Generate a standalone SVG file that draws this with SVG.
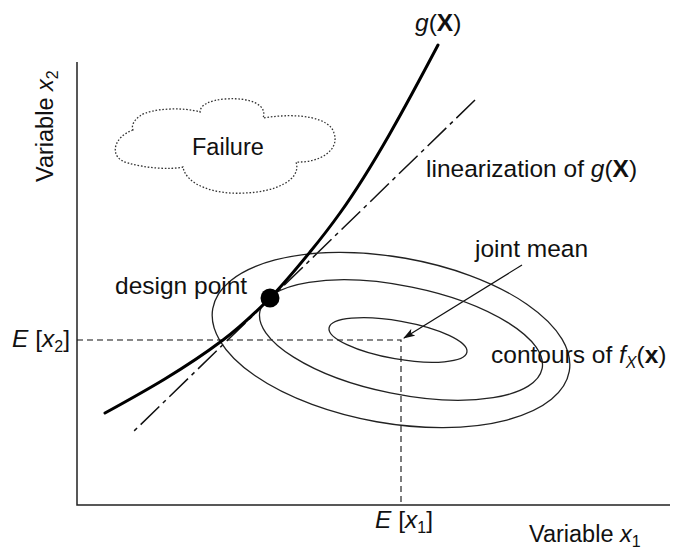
<svg xmlns="http://www.w3.org/2000/svg" width="675" height="550" viewBox="0 0 675 550">
<style>
text{font-family:"Liberation Sans",Arial,sans-serif;font-size:24.5px;fill:#111}
.ax{font-size:23.5px}
.it{font-style:italic}
.bd{font-weight:bold}
.sub{font-size:16px}
.axis{fill:none;stroke:#222;stroke-width:1.5}
.dash{fill:none;stroke:#111;stroke-width:1.1;stroke-dasharray:6 4}
.ell{fill:none;stroke:#222;stroke-width:1.3}
.g{fill:none;stroke:#000;stroke-width:3;stroke-linecap:round}
.lin{fill:none;stroke:#111;stroke-width:1.5;stroke-dasharray:26 5 4 5}
.cloud{fill:none;stroke:#333;stroke-width:1.3;stroke-dasharray:1.6 1.8}
</style>
<defs>
<marker id="ah" viewBox="0 0 12 8" refX="11" refY="4" markerWidth="12" markerHeight="8" markerUnits="userSpaceOnUse" orient="auto">
<path d="M0,0 L12,4 L0,8 L3,4 Z" fill="#111"/>
</marker>
</defs>
<g id="axes">
<path class="axis" d="M77,62 L77,505 L670,505"/>
</g>
<g id="connectors">
<path class="dash" d="M77,340 L401,340 L401,505"/>
<path class="lin" d="M475,100 L133,432"/>
<path fill="none" stroke="#111" stroke-width="1.2" d="M522,265 L404,338" marker-end="url(#ah)"/>
</g>
<g id="contours">
<ellipse class="ell" cx="398" cy="340" rx="70" ry="19" transform="rotate(10 398 340)"/>
<ellipse class="ell" cx="401" cy="340" rx="144" ry="54" transform="rotate(11.5 401 340)"/>
<ellipse class="ell" cx="391" cy="340" rx="181" ry="83" transform="rotate(10 391 340)"/>
</g>
<g id="limit-state">
<path class="g" d="M105,413 C144.3,391.4 183.7,369.5 223,340 C238.7,328.25 254.3,313.67 270,298 C283.3,284.67 296.7,268.27 310,252 C320,239.8 330,227 340,213 C372.67,167.3 405.3,107.1 438,45"/>
</g>
<g id="design-point">
<circle cx="270" cy="298" r="9.5" fill="#000"/>
</g>
<g id="failure">
<path class="cloud" d="M133,130 C113,137 108,158 128,163 C145,168 170,170 183,167 C186,185 215,195 245,193 C275,192 302,180 296,162 C320,163 340,150 334,133 C330,118 300,112 263,118 C268,105 250,97 225,99 C210,100 200,105 200,112 C185,107 150,108 140,116 C134,120 131,126 133,130 Z"/>
<text x="192" y="155" style="font-size:23.5px">Failure</text>
</g>
<g id="labels">
<text x="415" y="31"><tspan class="it">g</tspan>(<tspan class="bd">X</tspan>)</text>
<text x="426" y="177">linearization of <tspan class="it">g</tspan>(<tspan class="bd">X</tspan>)</text>
<text x="475" y="257">joint mean</text>
<text x="115" y="294">design point</text>
<text x="491" y="363">contours of <tspan class="it">f</tspan><tspan class="it sub" dy="5">X</tspan><tspan dy="-5">(</tspan><tspan class="bd">x</tspan>)</text>
<text x="12" y="347"><tspan class="it">E</tspan> [<tspan class="it">x</tspan><tspan class="sub" dy="5">2</tspan><tspan dy="-5">]</tspan></text>
<text x="375" y="528"><tspan class="it">E</tspan> [<tspan class="it">x</tspan><tspan class="sub" dy="5">1</tspan><tspan dy="-5">]</tspan></text>
<text class="ax" x="529" y="542">Variable <tspan class="it">x</tspan><tspan class="sub" dy="5">1</tspan></text>
<text class="ax" transform="translate(53,182) rotate(-90)">Variable <tspan class="it">x</tspan><tspan class="sub" dy="5">2</tspan></text>
</g>
</svg>
